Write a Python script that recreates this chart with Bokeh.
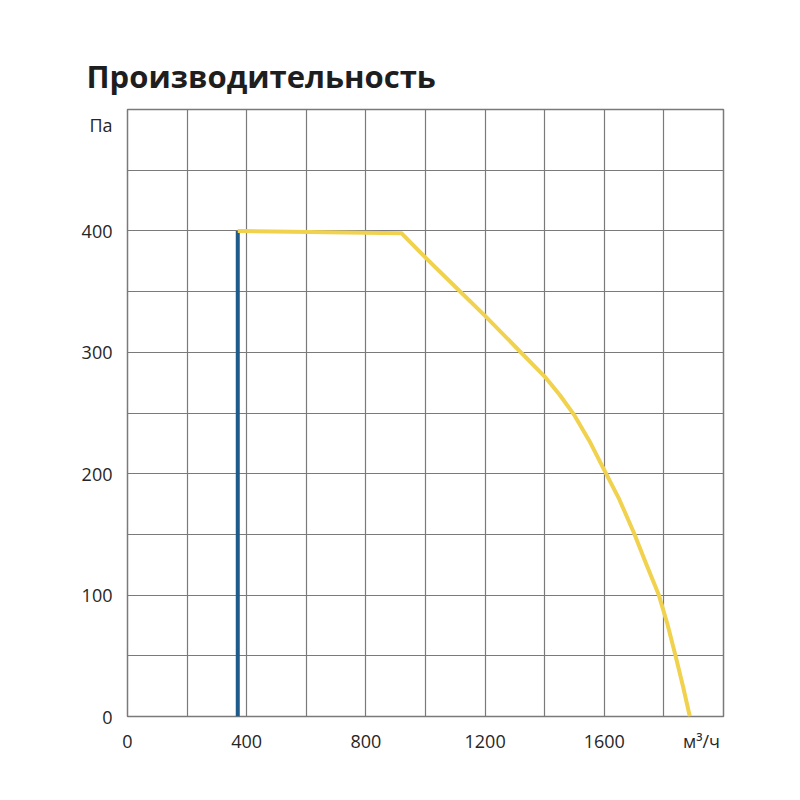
from bokeh.plotting import figure
from bokeh.models import FixedTicker, Range1d, Title
from bokeh.embed import file_html
from bokeh.resources import INLINE

title_text = "Производительность"
y_unit = "Па"
x_unit = "м³/ч"

x_ticks = [0, 400, 800, 1200, 1600]
y_ticks = [0, 100, 200, 300, 400]
x_unit_pos = 1926
y_unit_pos = 487
x_grid = [200, 400, 600, 800, 1000, 1200, 1400, 1600, 1800]
y_grid = [50, 100, 150, 200, 250, 300, 350, 400, 450]

# fan curve (yellow)
fan_x = [370, 920, 1000, 1100, 1200, 1300, 1400, 1450, 1500, 1550, 1600,
         1650, 1700, 1740, 1783, 1812, 1839, 1864, 1887]
fan_y = [400, 398, 378, 354, 330, 305, 280, 265, 248, 227, 203,
         179, 151, 126, 100, 76, 50, 25, 0]

# system limit (blue)
lim_x = [370, 370]
lim_y = [0, 400]

W, H = 790, 790
left, top, fw, fh = 127, 109, 596, 607

p = figure(width=W, height=H, output_backend="svg", toolbar_location=None,
           x_range=Range1d(0, 2000), y_range=Range1d(0, 500),
           min_border_left=left, min_border_top=top,
           min_border_right=W - left - fw, min_border_bottom=H - top - fh)

p.background_fill_color = "white"
p.border_fill_color = "white"
p.outline_line_color = "#7a7a7a"
p.outline_line_width = 1.5

xt = x_ticks + [x_unit_pos]
yt = y_ticks + [y_unit_pos]
p.xaxis[0].ticker = FixedTicker(ticks=xt)
p.yaxis[0].ticker = FixedTicker(ticks=yt)
p.xaxis[0].major_label_overrides = {**{t: str(t) for t in x_ticks}, x_unit_pos: x_unit}
p.yaxis[0].major_label_overrides = {**{t: str(t) for t in y_ticks}, y_unit_pos: y_unit}
for ax in (p.xaxis[0], p.yaxis[0]):
    ax.axis_line_color = None
    ax.major_tick_line_color = None
    ax.minor_tick_line_color = None
    ax.major_label_text_font = "Open Sans"
    ax.major_label_text_font_size = "18px"
    ax.major_label_text_color = "#262626"
p.xaxis.major_label_standoff = 6
p.yaxis.major_label_standoff = 9

p.xgrid.ticker = FixedTicker(ticks=x_grid)
p.ygrid.ticker = FixedTicker(ticks=y_grid)
for g in (p.xgrid[0], p.ygrid[0]):
    g.grid_line_color = "#7a7a7a"
    g.grid_line_width = 1.2

p.line(lim_x, lim_y, line_color="#1e5b8a", line_width=4)
p.line(fan_x, fan_y, line_color="#f0d24e", line_width=4, line_join="round")

p.add_layout(Title(text=title_text, text_font="Open Sans", text_font_style="bold",
                   text_font_size="31px", text_color="#1e1e1e", align="left",
                   offset=-41, standoff=25), "above")

open("out.html", "w").write(file_html(p, INLINE))
